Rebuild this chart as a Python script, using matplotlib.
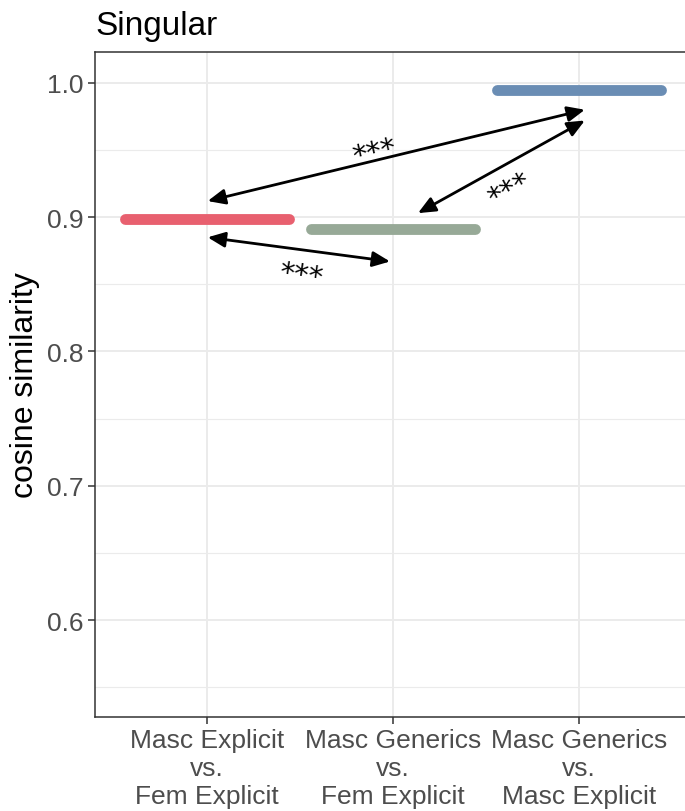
import matplotlib
matplotlib.use("Agg")
import matplotlib.pyplot as plt
import numpy as np

plt.rcParams['font.family'] = ['Liberation Sans', 'DejaVu Sans']

categories = ["Masc Explicit\nvs.\nFem Explicit",
              "Masc Generics\nvs.\nFem Explicit",
              "Masc Generics\nvs.\nMasc Explicit"]
values = [0.899, 0.8914, 0.9948]
colors = ["#E8606F", "#97A997", "#6A8DB4"]
yticks = [0.6, 0.7, 0.8, 0.9, 1.0]
yminor = [0.55, 0.65, 0.75, 0.85, 0.95]
# comparison arrows: (x0, y0, x1, y1) and star label positions/rotations
arrows = [(1.005, 0.912, 3.03, 0.980),
          (2.134, 0.903, 3.03, 0.972),
          (1.005, 0.885, 1.984, 0.867)]
stars = [(1.89, 0.955, 13), (2.60, 0.9265, 28), (1.511, 0.864, -8)]

W, H = 685, 812
fig = plt.figure(figsize=(W/100, H/100), dpi=100)
left, right, top, bottom = 95, 691, 53, 718
ax = fig.add_axes([left/W, 1-bottom/H, (right-left)/W, (bottom-top)/H])

ax.set_xlim(0.4, 3.6)
ax.set_ylim(0.5278, 1.023)
xs = [1, 2, 3]
for x, v, c in zip(xs, values, colors):
    ax.plot([x-0.44, x+0.44], [v, v], color=c, lw=7.8, solid_capstyle='round', zorder=3)

for (x0, y0, x1, y1) in arrows:
    ax.annotate("", xy=(x1, y1), xytext=(x0, y0),
                arrowprops=dict(arrowstyle="<|-|>,head_length=0.75,head_width=0.33",
                                color="black", lw=2.0,
                                mutation_scale=14, shrinkA=0, shrinkB=0),
                zorder=4)
star_fs = 21
lift = 0.59 * star_fs  # asterisk centre above baseline, in points
for (x, y, r) in stars:
    t = np.deg2rad(r)
    dx, dy = lift * np.sin(t), -lift * np.cos(t)
    ax.annotate("***", xy=(x, y), xytext=(dx, dy), textcoords='offset points',
                fontsize=star_fs, rotation=r, ha='center', va='baseline',
                rotation_mode='anchor', color='black', zorder=4,
                family='DejaVu Sans')

ax.set_xticks(xs)
ax.set_xticklabels(categories, fontsize=19, color='#4D4D4D', linespacing=1.22)
ax.set_yticks(yticks)
ax.set_yticklabels([f"{t:.1f}" for t in yticks], fontsize=19, color='#4D4D4D')
ax.set_yticks(yminor, minor=True)
ax.tick_params(axis='both', which='major', length=5, width=1.1, color='#333333', pad=3)
ax.tick_params(axis='y', which='minor', length=0)
ax.grid(True, which='major', color='#EBEBEB', lw=1.4, zorder=0)
ax.grid(True, which='minor', axis='y', color='#EBEBEB', lw=0.8, zorder=0)
ax.set_axisbelow(True)
for s in ax.spines.values():
    s.set_color('#333333')
    s.set_linewidth(1.1)

ax.set_ylabel("cosine similarity", fontsize=23, color='black', labelpad=5)
ax.set_title("Singular", fontsize=24, loc='left', pad=13, color='black')

fig.savefig("out.png", dpi=100)
